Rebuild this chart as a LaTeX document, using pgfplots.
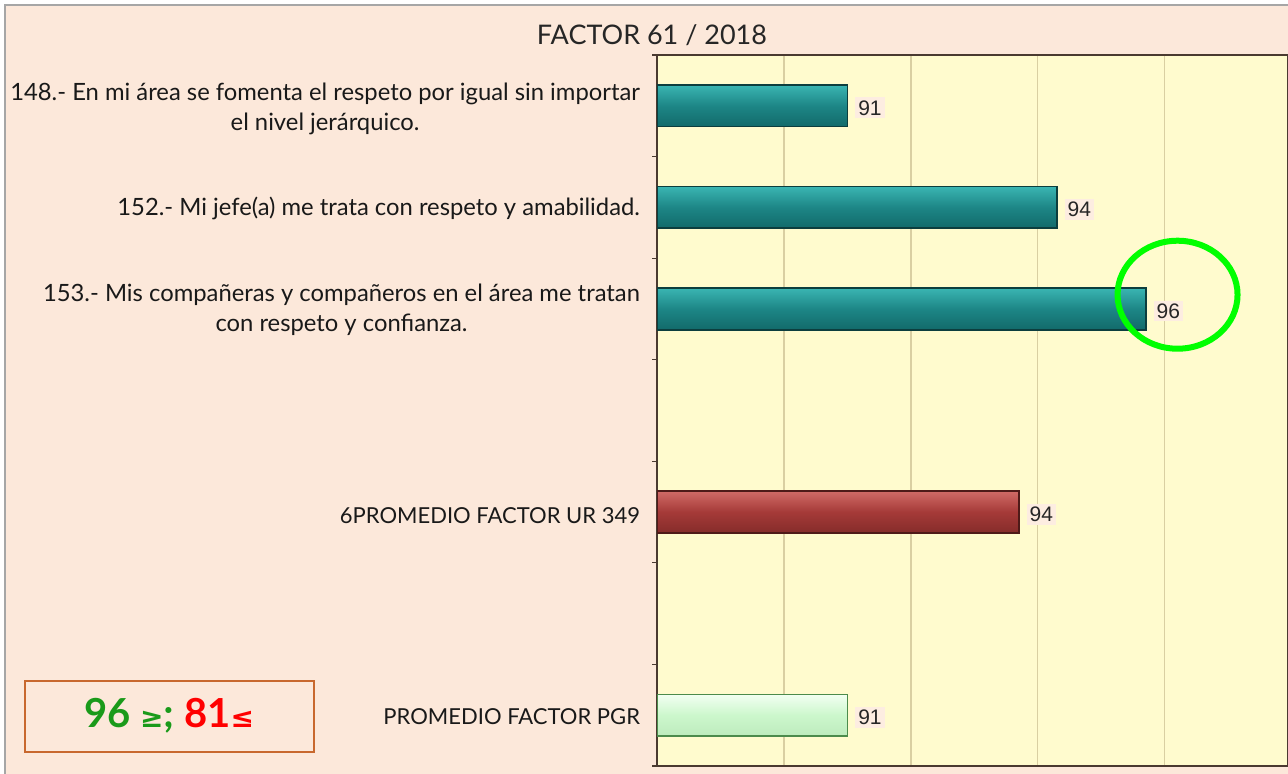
\documentclass[border=0pt]{standalone}
\usepackage{pgfplots}
\pgfplotsset{compat=1.18}
\usepackage{fontspec}
\setmainfont{Lato}
\newfontfamily\arial{Liberation Sans}
\newfontfamily\djv{DejaVu Sans}
\definecolor{peach}{HTML}{FCE8DA}
\definecolor{plotbg}{HTML}{FFFBCE}
\definecolor{gridc}{HTML}{D9CFA2}
\definecolor{axisc}{HTML}{4A3A30}
\definecolor{tealm}{HTML}{1D8686}
\definecolor{teall}{HTML}{3AB5B2}
\definecolor{teald}{HTML}{126A6A}
\definecolor{tealo}{HTML}{0C3E3E}
\definecolor{redm}{HTML}{A53A38}
\definecolor{redl}{HTML}{D06A66}
\definecolor{redd}{HTML}{852C2A}
\definecolor{redo}{HTML}{4E1A18}
\definecolor{grnm}{HTML}{CCF7CC}
\definecolor{grnl}{HTML}{F2FFF2}
\definecolor{grnd}{HTML}{BDEBBD}
\definecolor{boxc}{HTML}{C8682E}
\definecolor{okgreen}{HTML}{1A9A1A}
\pgfplotstableread{
y v
0 91.0
}\qa
\pgfplotstableread{
y v
1 94.3
}\qb
\pgfplotstableread{
y v
2 95.7
}\qc
\pgfplotstableread{
y v
4 93.7
}\ur
\pgfplotstableread{
y v
6 91.0
}\pgr
\begin{document}
\begin{tikzpicture}
\fill[white] (0,0) rectangle (644pt,387pt);
\fill[peach] (2.5pt,0) rectangle (644pt,384.5pt);
\draw[gray!70,line width=0.8pt] (2.5pt,0) -- (2.5pt,384.5pt) -- (644pt,384.5pt);
\node[font=\fontsize{13.5}{15}\selectfont, text=black!85] at (326pt,369.5pt) {FACTOR 61 / 2018};
\begin{axis}[
  at={(328.5pt,4pt)}, anchor=south west,
  scale only axis, width=315.5pt, height=355.5pt,
  xmin=88, xmax=97.94,
  ymin=-0.5, ymax=6.5, y dir=reverse,
  axis background/.style={fill=plotbg},
  axis line style={axisc, line width=0.8pt},
  xtick={90,92,94,96}, xticklabels={}, xmajorgrids,
  major grid style={gridc, line width=0.6pt},
  ytick={-0.5,0.5,...,6.5}, yticklabels={},
  ytick pos=left, xtick pos=bottom, tick align=outside,
  major tick length=2.5pt,
  x tick style={draw=none},
  y tick style={axisc, line width=0.6pt},
  clip mode=individual,
  xbar, bar shift=0pt, bar width=0.41,
  nodes near coords,
  nodes near coords style={anchor=west, xshift=3.5pt, yshift=-1pt, font=\arial\fontsize{10.5}{12}\selectfont, text=black!85, fill=peach!80, inner sep=1.5pt,
    /pgf/number format/.cd, fixed, precision=0, assume math mode=true},
  tealbar/.style={draw=tealo, line width=0.8pt, top color=teall, bottom color=teald, middle color=tealm},
]
\addplot[tealbar] table[x=v,y=y] {\qa};
\addplot[tealbar] table[x=v,y=y] {\qb};
\addplot[tealbar] table[x=v,y=y] {\qc};
\addplot[draw=redo, line width=0.8pt, top color=redl, bottom color=redd, middle color=redm] table[x=v,y=y] {\ur};
\addplot[draw=green!35!black!70, line width=0.8pt, top color=grnl, bottom color=grnd, middle color=grnm] table[x=v,y=y] {\pgr};
\draw[color={rgb,255:red,0;green,255;blue,0}, line width=3pt] (axis cs:96.2,1.86) ellipse [x radius=30pt, y radius=27pt];
\end{axis}
\begin{scope}[every node/.style={font=\fontsize{11.9}{15}\selectfont, text=black!90, align=center, anchor=east}]
\node at (323.5pt,332.5pt) {148.- En mi área se fomenta el respeto por igual sin importar\\el nivel jerárquico.};
\node at (323.5pt,283pt) {152.- Mi jefe(a) me trata con respeto y amabilidad.};
\node at (323.5pt,232pt) {153.- Mis compañeras y compañeros en el área me tratan\\con respeto y confianza.};
\node[font=\fontsize{11}{15}\selectfont] at (323.5pt,129pt) {6PROMEDIO FACTOR UR 349};
\node[font=\fontsize{11}{15}\selectfont] at (323.5pt,28.5pt) {PROMEDIO FACTOR PGR};
\end{scope}
\draw[boxc, line width=0.8pt, fill=peach] (12.5pt,11pt) rectangle (157pt,46.5pt);
\node[font=\bfseries\fontsize{20}{22}\selectfont] at (84.5pt,29pt) {\textcolor{okgreen}{96 {\djv\fontsize{14}{18}\selectfont ≥};} \textcolor{red}{81{\djv\fontsize{14}{18}\selectfont ≤}}};
\pgfresetboundingbox
\useasboundingbox (0,0) rectangle (644pt,387pt);
\end{tikzpicture}
\end{document}
